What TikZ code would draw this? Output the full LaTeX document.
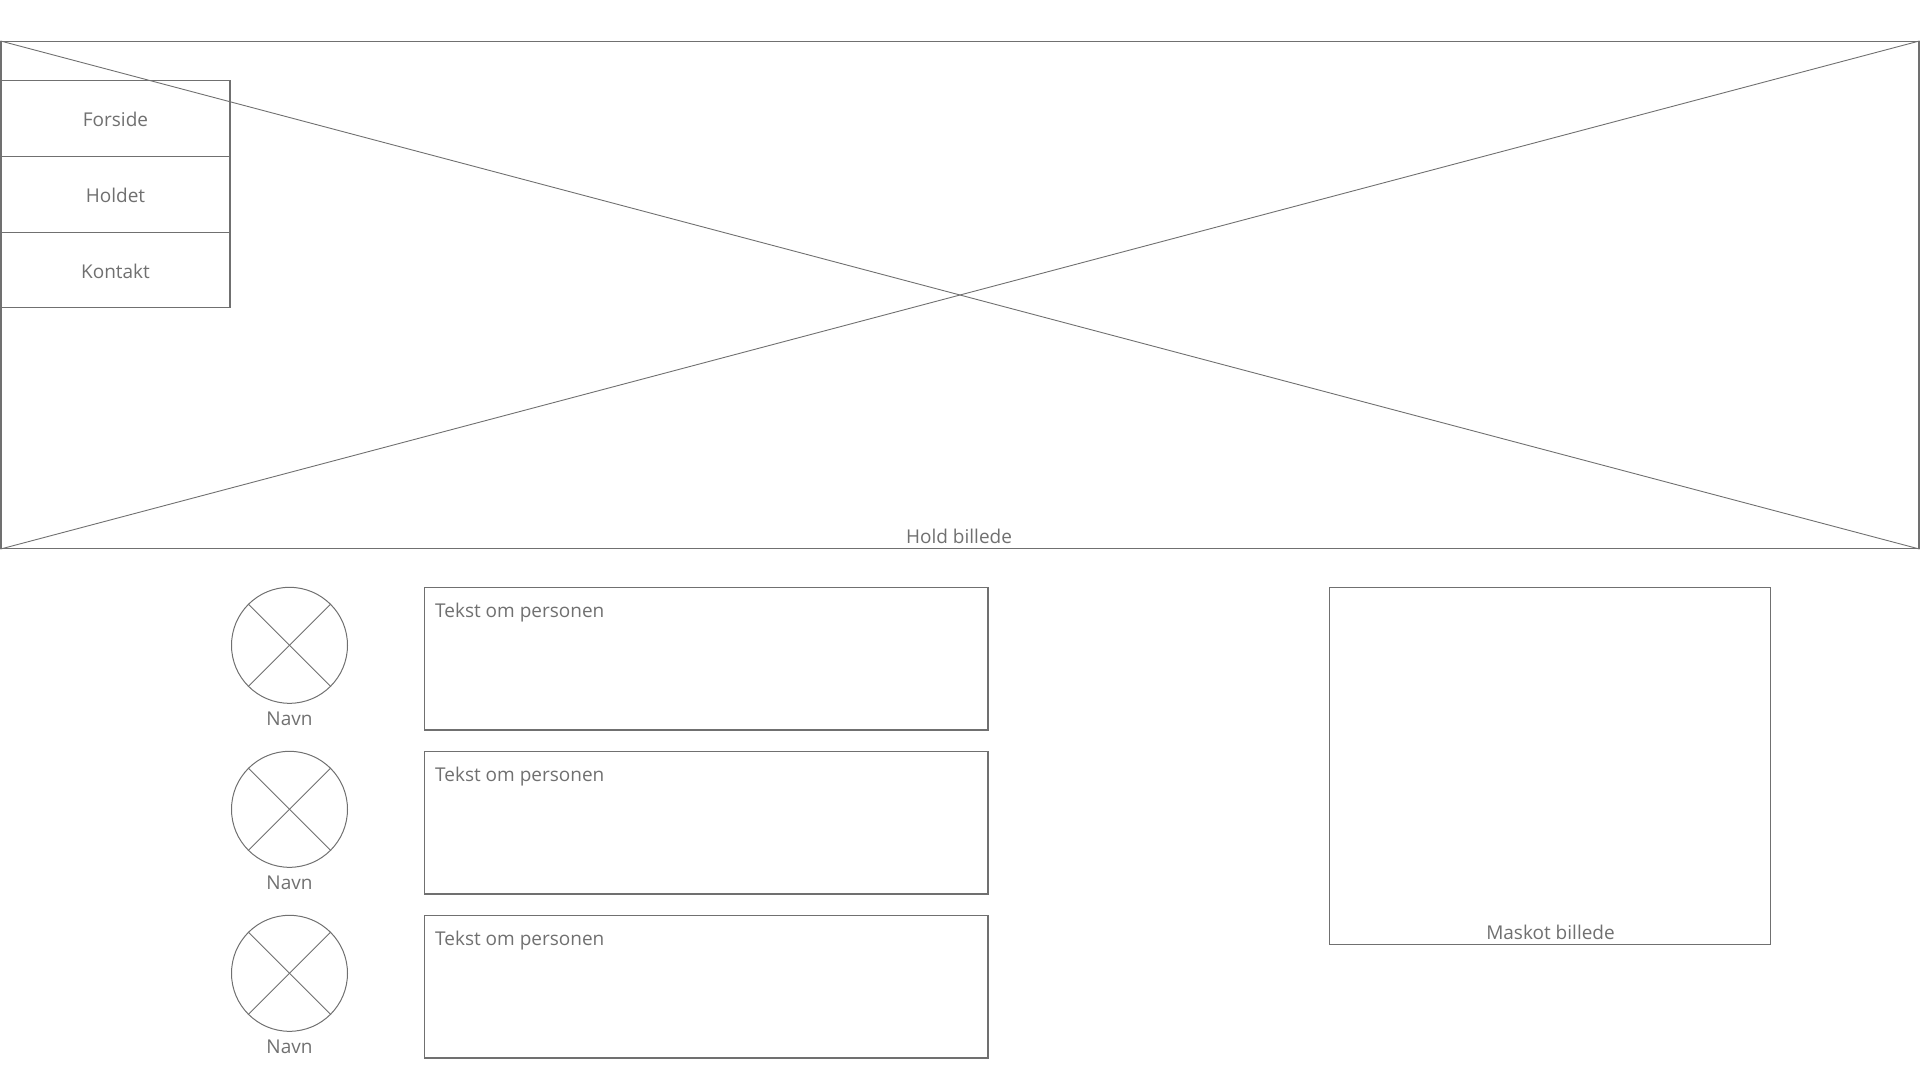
\documentclass[tikz,border=0pt]{standalone}
\usepackage{fontspec}
\setmainfont{Open Sans}
\usepackage{tikz}
\definecolor{wf_gray}{RGB}{112, 112, 112}
\tikzstyle{bx}=[rectangle,draw=wf_gray,line width=1.1pt,inner sep=0pt,
  text=wf_gray,font=\fontsize{19}{22}\selectfont]
\tikzstyle{cn}=[circle,draw=wf_gray,line width=1pt,inner sep=0pt,minimum size=116pt]
\tikzstyle{ln}=[draw=wf_gray,line width=0.9pt]
\tikzstyle{none}=[inner sep=0pt,text=wf_gray,font=\fontsize{19}{22}\selectfont]

\begin{document}
\begin{tikzpicture}[x=1pt, y=-1pt]
            \useasboundingbox (0, 0) rectangle (1920, 1080);
            \node [style=bx, minimum width=1918pt, minimum height=507pt] (0) at (960, 295) {};
            \node [style=bx, minimum width=230pt, minimum height=76pt] (1) at (115, 118.3) {};
            \node [style=bx, minimum width=230pt, minimum height=76pt] (2) at (115, 194.3) {};
            \node [style=bx, minimum width=230pt, minimum height=75.5pt] (3) at (115, 270) {};
            \node [style=none, anchor=base] (19) at (115.5, 126.7) {Forside};
            \node [style=none, anchor=base] (20) at (115.5, 202.3) {Holdet};
            \node [style=none, anchor=base] (21) at (115.5, 278.3) {Kontakt};
            \node [style=none, anchor=base] (4) at (959, 543) {Hold billede};
            \node [style=cn] (5) at (289.5, 645.3) {};
            \node [style=cn] (6) at (289.5, 809.3) {};
            \node [style=cn] (7) at (289.5, 973.3) {};
            \node [style=none, anchor=base] (8) at (289.5, 725.7) {Navn};
            \node [style=none, anchor=base] (9) at (289.5, 889.7) {Navn};
            \node [style=none, anchor=base] (10) at (289.5, 1053.7) {Navn};
            \node [style=bx, minimum width=563.5pt, minimum height=142.5pt] (11) at (706.25, 658.75) {};
            \node [style=bx, minimum width=563.5pt, minimum height=142.5pt] (12) at (706.25, 822.75) {};
            \node [style=bx, minimum width=563.5pt, minimum height=142.5pt] (13) at (706.25, 986.75) {};
            \node [style=none, anchor=base west] (14) at (435, 617.3) {Tekst om personen};
            \node [style=none, anchor=base west] (15) at (435, 781.3) {Tekst om personen};
            \node [style=none, anchor=base west] (16) at (435, 945.3) {Tekst om personen};
            \node [style=bx, minimum width=441pt, minimum height=356.5pt] (17) at (1550.2, 765.9) {};
            \node [style=none, anchor=base] (18) at (1550.5, 939.5) {Maskot billede};
            \draw [style=ln] (0.north west) to (0.south east);
            \draw [style=ln] (0.south west) to (0.north east);
            \draw [style=ln] (5.135) to (5.-45);
            \draw [style=ln] (5.45) to (5.-135);
            \draw [style=ln] (6.135) to (6.-45);
            \draw [style=ln] (6.45) to (6.-135);
            \draw [style=ln] (7.135) to (7.-45);
            \draw [style=ln] (7.45) to (7.-135);
    \end{tikzpicture}
\end{document}
